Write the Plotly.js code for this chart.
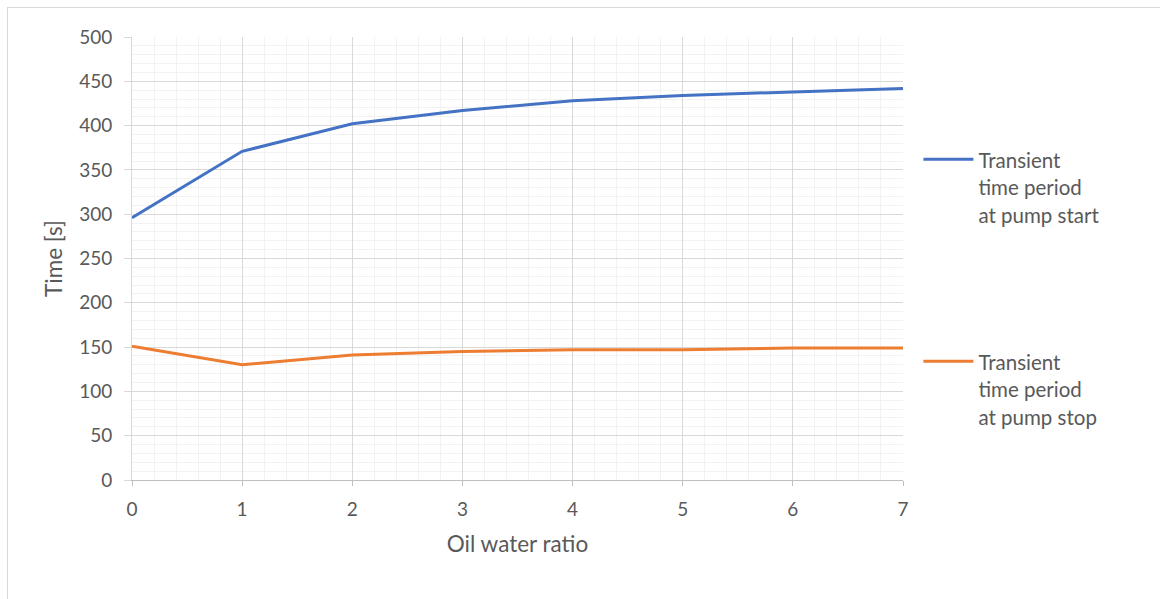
<!DOCTYPE html>
<html>
<head>
<meta charset="utf-8">
<script src="https://cdn.plot.ly/plotly-3.0.1.min.js"></script>
<style>
  html, body { margin: 0; padding: 0; background: #ffffff; }
  #frame {
    position: absolute; left: 7px; top: 7px;
    width: 1160px; height: 600px;
    border: 1px solid #d9d9d9; box-sizing: border-box;
  }
  #chart { width: 1152px; height: 600px; }
</style>
</head>
<body>
<div id="frame"><div id="chart"></div></div>
<script>
// Oil/water ratio on the x axis
const oilWaterRatio = [0, 1, 2, 3, 4, 5, 6, 7];
// Transient durations in seconds
const pumpStartTime = [296, 371, 402, 417, 428, 434, 438, 442];
const pumpStopTime  = [151, 130, 141, 145, 147, 147, 149, 149];

const seriesNames = [
  'Transient<br>time period<br>at pump start',
  'Transient<br>time period<br>at pump stop'
];

const textColor = '#595959';
const fontFamily = 'Lato, Open Sans, sans-serif';

// legend entries use a smaller glyph size inside a taller line box
function styledName(s) {
  return '<span style="font-size:20.5px">' + s + '</span>';
}

const traces = [
  {
    x: oilWaterRatio, y: pumpStartTime, name: styledName(seriesNames[0]),
    legendgroup: 'start',
    type: 'scatter', mode: 'lines',
    line: { color: '#4472c4', width: 3 }
  },
  {
    x: oilWaterRatio, y: pumpStopTime, name: styledName(seriesNames[1]),
    legendgroup: 'stop',
    type: 'scatter', mode: 'lines',
    line: { color: '#ed7d31', width: 3 }
  }
];

const layout = {
  width: 1152, height: 600,
  margin: { l: 124, r: 257, t: 29, b: 128 },
  paper_bgcolor: '#ffffff', plot_bgcolor: '#ffffff',
  font: { family: fontFamily, color: textColor, size: 19 },
  showlegend: true,
  legend: {
    x: 1.02, xanchor: 'left', y: 0.77, yanchor: 'top',
    valign: 'top', tracegroupgap: 116, itemwidth: 50,
    font: { family: fontFamily, color: textColor, size: 21.3 },
    bgcolor: 'rgba(0,0,0,0)'
  },
  xaxis: {
    range: [0, 7], dtick: 1, tick0: 0,
    showgrid: true, gridcolor: '#d9d9d9', gridwidth: 1,
    minor: { dtick: 0.2, showgrid: true, gridcolor: '#f2f2f2', gridwidth: 1 },
    showline: true, linecolor: '#bfbfbf', linewidth: 1,
    ticks: 'outside', ticklen: 5, tickcolor: '#bfbfbf',
    ticklabelstandoff: 7,
    zeroline: false,
    tickfont: { size: 19, color: textColor },
    title: { text: 'Oil water ratio', font: { size: 22.5, color: textColor }, standoff: 17 }
  },
  yaxis: {
    range: [0, 500], dtick: 50, tick0: 0,
    showgrid: true, gridcolor: '#d9d9d9', gridwidth: 1,
    minor: { dtick: 10, showgrid: true, gridcolor: '#f2f2f2', gridwidth: 1 },
    showline: true, linecolor: '#d9d9d9', linewidth: 1,
    ticks: 'outside', ticklen: 7, tickcolor: '#d9d9d9',
    ticklabelstandoff: 8,
    zeroline: false,
    tickfont: { size: 19, color: textColor },
    title: { text: 'Time [s]', font: { size: 22.5, color: textColor }, standoff: 10 }
  }
};

Plotly.newPlot('chart', traces, layout, { displayModeBar: false, staticPlot: true });
</script>
</body>
</html>
